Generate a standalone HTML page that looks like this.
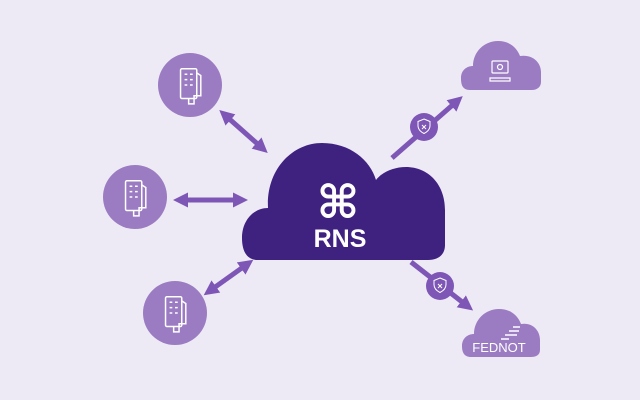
<!DOCTYPE html>
<html><head><style>
html,body{margin:0;padding:0;background:#eeeaf5;}
svg{display:block}
</style></head><body>
<svg width="640" height="400" viewBox="0 0 640 400" xmlns="http://www.w3.org/2000/svg">
<defs>
<marker id="ah" markerWidth="3" markerHeight="3" refX="1.2" refY="1.5" orient="auto" markerUnits="strokeWidth">
<path d="M0,0 L3,1.5 L0,3 Z" fill="#7e57b6"/>
</marker>
<marker id="ahs" markerWidth="3" markerHeight="3" refX="1.2" refY="1.5" orient="auto-start-reverse" markerUnits="strokeWidth">
<path d="M0,0 L3,1.5 L0,3 Z" fill="#7e57b6"/>
</marker>
</defs>
<rect width="640" height="400" fill="#eeeaf5"/>
<g stroke="#7e57b6" stroke-width="5" fill="none">
<line x1="226" y1="116" x2="261" y2="147" marker-start="url(#ahs)" marker-end="url(#ah)"/>
<line x1="182" y1="200" x2="239" y2="200" marker-start="url(#ahs)" marker-end="url(#ah)"/>
<line x1="211" y1="290" x2="246" y2="265" marker-start="url(#ahs)" marker-end="url(#ah)"/>
<line x1="392" y1="158" x2="456" y2="102" marker-end="url(#ah)"/>
<line x1="411" y1="262" x2="466" y2="305" marker-end="url(#ah)"/>
</g>
<g>
<circle cx="424" cy="127" r="14" fill="#7e57b6"/>
<path d="M424,119 l6,2.5 v4 c0,4 -3,6.5 -6,8 c-3,-1.5 -6,-4 -6,-8 v-4 z" fill="none" stroke="#fff" stroke-width="1"/>
<path d="M422,125 l4,4 M426,125 l-4,4" stroke="#fff" stroke-width="1"/>
<circle cx="440" cy="286" r="14" fill="#7e57b6"/>
<path d="M440,278 l6,2.5 v4 c0,4 -3,6.5 -6,8 c-3,-1.5 -6,-4 -6,-8 v-4 z" fill="none" stroke="#fff" stroke-width="1"/>
<path d="M438,284 l4,4 M442,284 l-4,4" stroke="#fff" stroke-width="1"/>
</g>
<g fill="#9b7cc2">
<circle cx="190" cy="85" r="32"/>
<circle cx="135" cy="197" r="32"/>
<circle cx="175" cy="313" r="32"/>
</g>
<g fill="none" stroke="#fff" stroke-width="1.1">
<g transform="translate(190,85) scale(1.35)"><rect x="-7" y="-12" width="12" height="22" rx="1"/><path d="M5,-9 l3,2 v15 h-5 v6 h-4 v-4"/><path d="M-4,-8h2M0,-8h2M-4,-4h2M0,-4h2M-4,0h2M0,0h2"/></g>
<g transform="translate(135,197) scale(1.35)"><rect x="-7" y="-12" width="12" height="22" rx="1"/><path d="M5,-9 l3,2 v15 h-5 v6 h-4 v-4"/><path d="M-4,-8h2M0,-8h2M-4,-4h2M0,-4h2M-4,0h2M0,0h2"/></g>
<g transform="translate(175,313) scale(1.35)"><rect x="-7" y="-12" width="12" height="22" rx="1"/><path d="M5,-9 l3,2 v15 h-5 v6 h-4 v-4"/><path d="M-4,-8h2M0,-8h2M-4,-4h2M0,-4h2M-4,0h2M0,0h2"/></g>
</g>
<path d="M258,260 C246,260 242,250 242,238 C242,220 254,208 268,208 C266,170 292,143 322,143 C350,143 370,160 376,180 C382,172 394,167 406,167 C428,167 445,184 445,210 L445,245 C445,255 438,260 428,260 Z" fill="#3f2180"/>
<text x="338" y="218" text-anchor="middle" font-family="DejaVu Sans, sans-serif" font-weight="bold" font-size="46" fill="#fff">⌘</text>
<text x="340" y="247" text-anchor="middle" font-family="Liberation Sans, sans-serif" font-weight="bold" font-size="25" fill="#fff">RNS</text>
<path d="M470,90 C462,90 461,84 461,78 C461,70 467,66 473,66 C473,52 484,41 498,41 C510,41 517,48 520,56 C532,54 541,62 541,72 L541,82 C541,87 537,90 532,90 Z" fill="#9b7cc2"/>
<g fill="none" stroke="#fff" stroke-width="1.2">
<rect x="492" y="61" width="16" height="12" rx="1"/>
<path d="M490,78 h20 v3 h-20 z"/>
<circle cx="500" cy="67" r="2.5"/>
</g>
<path d="M471,357 C464,357 462,352 462,346 C462,338 468,334 474,334 C474,320 485,309 499,309 C511,309 518,316 521,324 C532,322 540,330 540,340 L540,350 C540,355 536,357 531,357 Z" fill="#9b7cc2"/>
<g stroke="#fff" stroke-width="1.5"><path d="M513,327h7M509,331h10M505,335h12M501,339h8"/></g>
<text x="499" y="352" text-anchor="middle" font-family="Liberation Sans, sans-serif" font-size="13" fill="#fff">FEDNOT</text>
</svg>
</body></html>
